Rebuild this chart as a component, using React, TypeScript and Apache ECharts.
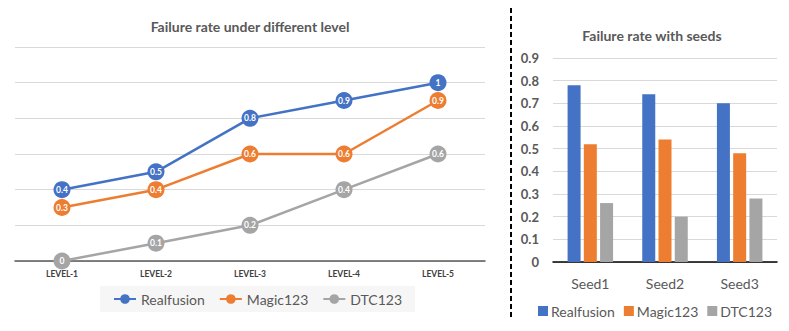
import React, { useEffect, useRef } from "react";
import * as echarts from "echarts";

const levels = ["LEVEL-1", "LEVEL-2", "LEVEL-3", "LEVEL-4", "LEVEL-5"];
const lineRealfusion = [0.4, 0.5, 0.8, 0.9, 1];
const lineMagic123 = [0.3, 0.4, 0.6, 0.6, 0.9];
const lineDTC123 = [0, 0.1, 0.2, 0.4, 0.6];

const seeds = ["Seed1", "Seed2", "Seed3"];
const barRealfusion = [0.78, 0.74, 0.7];
const barMagic123 = [0.52, 0.54, 0.48];
const barDTC123 = [0.26, 0.2, 0.28];

const seriesNames = ["Realfusion", "Magic123", "DTC123"];
const colors = ["#4472C4", "#ED7D31", "#A5A5A5"];

const FONT = "Lato, 'Open Sans', sans-serif";

export default function App() {
  const ref = useRef<HTMLDivElement>(null);
  useEffect(() => {
    if (!ref.current) return;
    const chart = echarts.init(ref.current, undefined, { renderer: "svg" });
    const lineData = [lineRealfusion, lineMagic123, lineDTC123];
    const barData = [barRealfusion, barMagic123, barDTC123];
    const lineSeries = seriesNames.map((n, i) => ({
      name: n,
      type: "line",
      xAxisIndex: 0,
      yAxisIndex: 0,
      data: lineData[i],
      color: colors[i],
      symbol: "circle",
      symbolSize: 17,
      lineStyle: { width: 2.5, color: colors[i] },
      itemStyle: { color: colors[i] },
      label: {
        show: true,
        position: "inside",
        color: "#fff",
        fontSize: 8.5,
        fontWeight: "bold",
        fontFamily: FONT,
        formatter: (p: any) => String(p.value),
      },
      z: 3 - i + 2,
    }));
    const barSeries = seriesNames.map((n, i) => ({
      name: "bar:" + n,
      type: "bar",
      xAxisIndex: 1,
      yAxisIndex: 1,
      data: barData[i],
      barWidth: 13,
      barGap: "25%",
      itemStyle: { color: colors[i] },
    }));
    chart.setOption({
      animation: false,
      backgroundColor: "#ffffff",
      graphic: [
        {
          type: "text",
          x: 250,
          y: 26,
          style: {
            text: "Failure rate under different level",
            textAlign: "center",
            textVerticalAlign: "middle",
            align: "center",
            verticalAlign: "middle",
            fill: "#595959",
            font: `bold 14px ${FONT}`,
          },
        },
        {
          type: "text",
          x: 652,
          y: 35,
          style: {
            text: "Failure rate with seeds",
            textAlign: "center",
            textVerticalAlign: "middle",
            align: "center",
            verticalAlign: "middle",
            fill: "#595959",
            font: `bold 14px ${FONT}`,
          },
        },
        {
          type: "line",
          shape: { x1: 511, y1: 8, x2: 511, y2: 318 },
          style: { stroke: "#000", lineWidth: 2, lineDash: [5, 3] },
        },
      ],
      grid: [
        { left: 15, top: 47, width: 470, height: 214 },
        { left: 553, top: 58, width: 224, height: 204 },
      ],
      xAxis: [
        {
          type: "category",
          gridIndex: 0,
          data: levels,
          boundaryGap: true,
          axisLine: { lineStyle: { color: "#595959", width: 1.5 } },
          axisTick: { show: false },
          axisLabel: {
            color: "#404040",
            fontSize: 8.5,
            fontWeight: "bold",
            fontFamily: FONT,
            margin: 8,
          },
        },
        {
          type: "category",
          gridIndex: 1,
          data: seeds,
          axisLine: { lineStyle: { color: "#000", width: 1.5 } },
          axisTick: { show: false },
          axisLabel: {
            color: "#595959",
            fontSize: 14,
            fontFamily: FONT,
            margin: 14,
          },
        },
      ],
      yAxis: [
        {
          type: "value",
          gridIndex: 0,
          min: 0,
          max: 1.2,
          interval: 0.2,
          axisLabel: { show: false },
          axisLine: { show: false },
          axisTick: { show: false },
          splitLine: { lineStyle: { color: "#d9d9d9", width: 1 } },
        },
        {
          type: "value",
          gridIndex: 1,
          min: 0,
          max: 0.9,
          interval: 0.1,
          axisLine: { show: false },
          axisTick: { show: false },
          axisLabel: {
            color: "#595959",
            fontSize: 13,
            fontWeight: "bold",
            fontFamily: FONT,
            margin: 14,
            formatter: (v: number) => (v === 0 ? "0" : v.toFixed(1)),
          },
          splitLine: { lineStyle: { color: "#d9d9d9", width: 1 } },
        },
      ],
      legend: [
        {
          data: seriesNames,
          left: 100,
          top: 286,
          itemWidth: 22,
          itemHeight: 12,
          itemGap: 14,
          padding: [6, 13, 6, 13],
          backgroundColor: "#f6f6f6",
          textStyle: { color: "#595959", fontSize: 14, fontFamily: FONT },
          selectedMode: false,
        },
        {
          data: seriesNames.map((n) => ({ name: "bar:" + n, icon: "rect" })),
          left: 538,
          top: 304,
          itemWidth: 10,
          itemHeight: 10,
          itemGap: 9,
          padding: 0,
          formatter: (n: string) => n.replace("bar:", ""),
          textStyle: { color: "#595959", fontSize: 14, fontFamily: FONT, padding: [0, 0, 0, -2] },
          selectedMode: false,
        },
      ],
      series: [...lineSeries, ...barSeries],
    });
    return () => chart.dispose();
  }, []);
  return (
    <div
      ref={ref}
      style={{ position: "absolute", left: 0, top: 0, width: 789, height: 331 }}
    />
  );
}
